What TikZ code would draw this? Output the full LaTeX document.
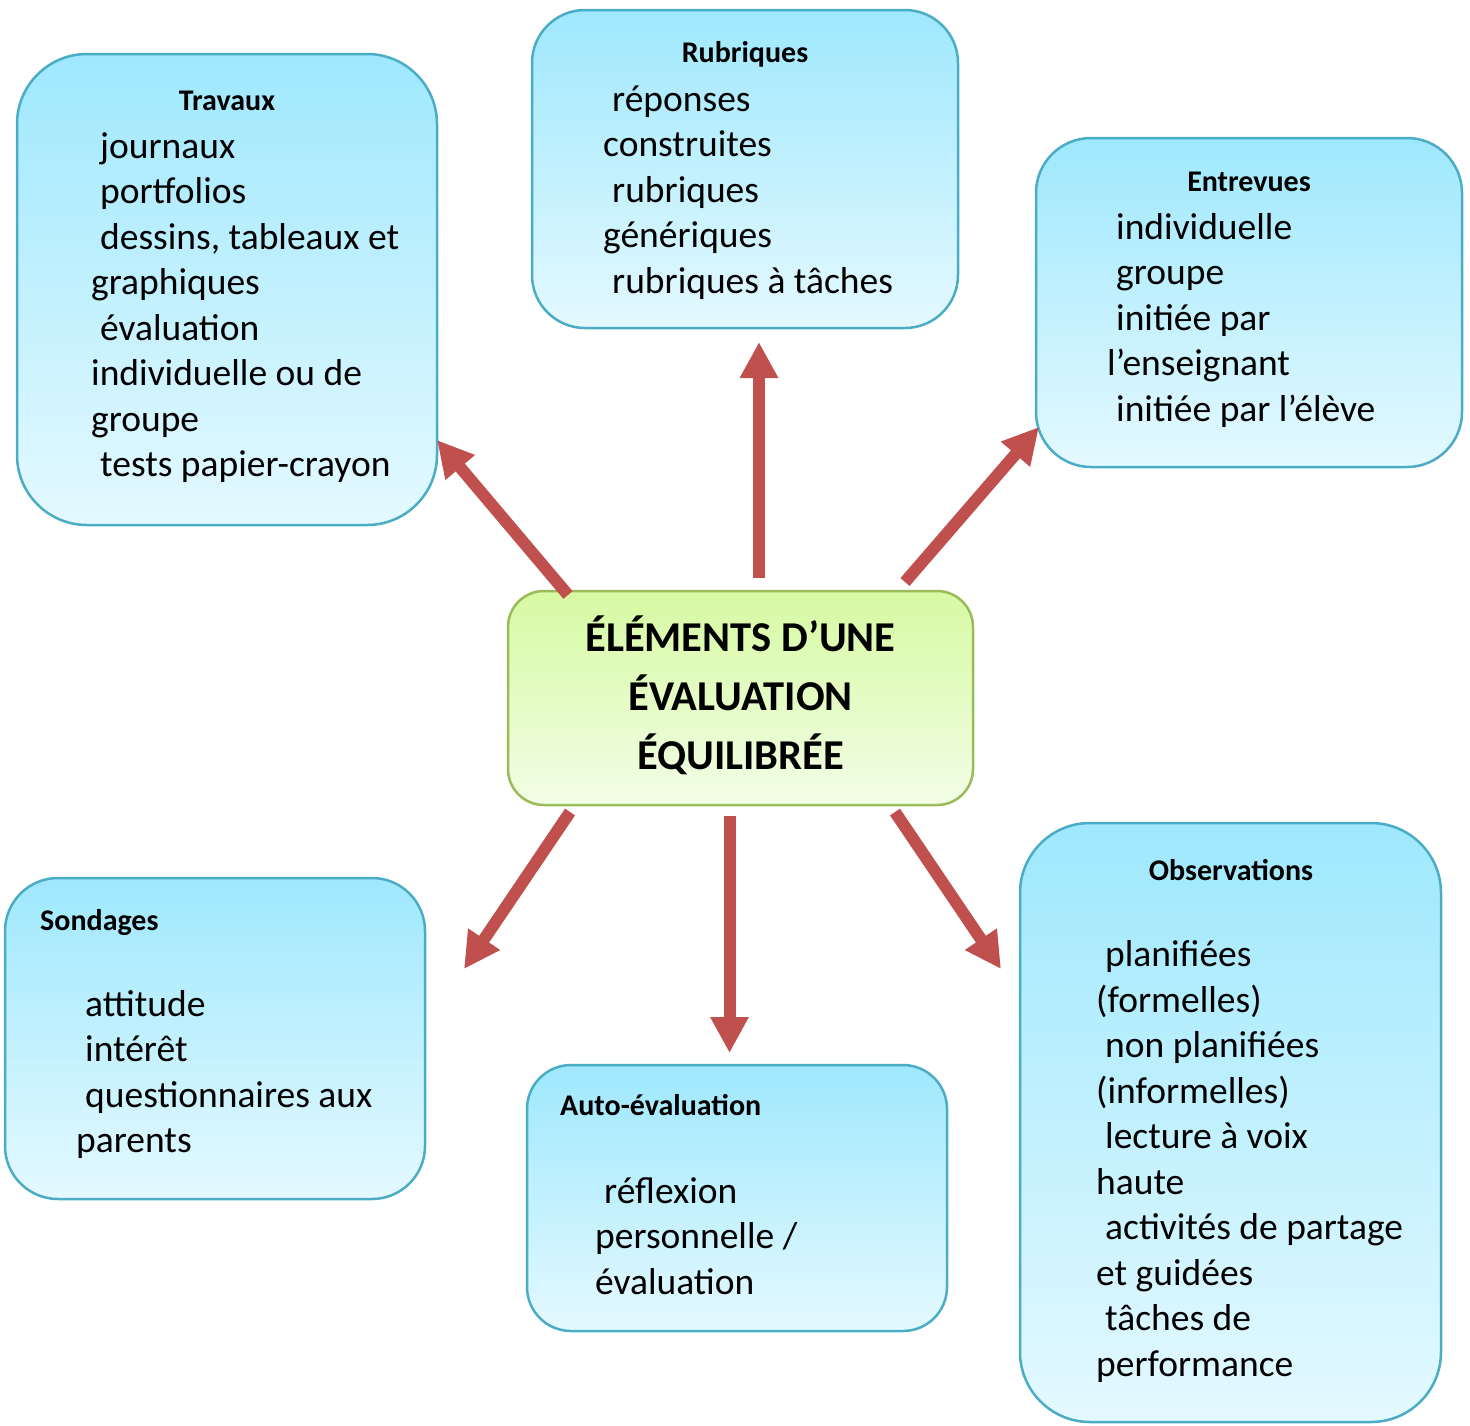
\documentclass[tikz,border=0pt]{standalone}
\usepackage{fontspec}
\setmainfont{Carlito}
\usetikzlibrary{arrows.meta}
\definecolor{bluetop}{HTML}{9FE8FD}
\definecolor{bluebot}{HTML}{E4F9FF}
\definecolor{blueline}{HTML}{4BACC6}
\definecolor{greentop}{HTML}{D7FAA3}
\definecolor{greenbot}{HTML}{F2FDE6}
\definecolor{greenline}{HTML}{9BBB59}
\definecolor{arrowred}{HTML}{C0504D}
\newcommand{\bodyfnt}{\fontsize{37.5}{45.5}\selectfont}
\newcommand{\strt}{\rule{0pt}{40pt}}
\newcommand{\ind}{\hspace*{9pt}}
\tikzset{
  bluebox/.style={draw=blueline, line width=2.5pt, top color=bluetop, bottom color=bluebot, inner sep=0pt, outer sep=0pt},
  greenbox/.style={draw=greenline, line width=2.5pt, top color=greentop, bottom color=greenbot, inner sep=0pt, outer sep=0pt},
  boxtitle/.style={anchor=base, inner sep=0pt, font=\bfseries\fontsize{30}{35}\selectfont},
  boxtitlel/.style={anchor=base west, inner sep=0pt, font=\bfseries\fontsize{30}{35}\selectfont},
  body/.style={anchor=north west, inner sep=0pt, align=left, font=\bodyfnt},
  bigarrow/.style={draw=arrowred, line width=12pt, -{Triangle[width=36pt,length=36pt]}, arrowred},
}
\begin{document}
\begin{tikzpicture}[x=1pt,y=-1pt]
\useasboundingbox (0,0) rectangle (1470,1425);
% boxes
\node[bluebox, rounded corners=70pt, minimum width=420pt, minimum height=471pt] (trav) at (227,289.5) {};
\node[bluebox, rounded corners=53pt, minimum width=426pt, minimum height=318pt] (rubr) at (745,169) {};
\node[bluebox, rounded corners=55pt, minimum width=426pt, minimum height=329pt] (entr) at (1249,302.5) {};
\node[greenbox, rounded corners=36pt, minimum width=465pt, minimum height=214pt] (centre) at (740.5,698) {};
\node[bluebox, rounded corners=53pt, minimum width=420pt, minimum height=321pt] (sond) at (215,1038.5) {};
\node[bluebox, rounded corners=44pt, minimum width=420pt, minimum height=266pt] (auto) at (737,1198) {};
\node[bluebox, rounded corners=70pt, minimum width=421pt, minimum height=599pt] (obs) at (1230.5,1122.5) {};
% centre text
\node[anchor=north, inner sep=0pt, align=center, font=\bfseries\fontsize{42.5}{59}\selectfont] (ctext) at (740.5,611) {\rule{0pt}{40pt}ÉLÉMENTS D’UNE\\ÉVALUATION\\ÉQUILIBRÉE};
% Travaux
\node[boxtitle] (travt) at (227,110) {Travaux};
\node[body] (travb) at (91,118) {\strt\ind journaux\\\ind portfolios\\\ind dessins, tableaux et\\graphiques\\\ind évaluation\\individuelle ou de\\groupe\\\ind tests papier-crayon};
% Rubriques
\node[boxtitle] (rubrt) at (745,62) {Rubriques};
\node[body] (rubrb) at (603,71) {\strt\ind réponses\\construites\\\ind rubriques\\génériques\\\ind rubriques à tâches};
% Entrevues
\node[boxtitle] (entrt) at (1249,191) {Entrevues};
\node[body] (entrb) at (1107,199) {\strt\ind individuelle\\\ind groupe\\\ind initiée par\\l’enseignant\\\ind initiée par l’élève};
% Sondages
\node[boxtitlel] (sondt) at (40,930) {Sondages};
\node[body] (sondb) at (76,976) {\strt\ind attitude\\\ind intérêt\\\ind questionnaires aux\\parents};
% Auto-evaluation
\node[boxtitlel] (autot) at (560,1115) {Auto-évaluation};
\node[body] (autob) at (595,1163) {\strt\ind réflexion\\personnelle /\\évaluation};
% Observations
\node[boxtitle] (obst) at (1231,880) {Observations};
\node[body] (obsb) at (1096,926.5) {\strt\ind planifiées\\(formelles)\\\ind non planifiées\\(informelles)\\\ind lecture à voix\\haute\\\ind activités de partage\\et guidées\\\ind tâches de\\performance};
% arrow end points
\coordinate (a1s) at (568,595); \coordinate (a1e) at (437,440);
\coordinate (a2s) at (759,578); \coordinate (a2e) at (759,342);
\coordinate (a3s) at (905,582); \coordinate (a3e) at (1039,427);
\coordinate (a4s) at (570,812); \coordinate (a4e) at (464,969);
\coordinate (a5s) at (729.5,816); \coordinate (a5e) at (729.5,1053);
\coordinate (a6s) at (895,812); \coordinate (a6e) at (1001,969);
\draw[bigarrow] (a1s) -- (a1e);
\draw[bigarrow] (a2s) -- (a2e);
\draw[bigarrow] (a3s) -- (a3e);
\draw[bigarrow] (a4s) -- (a4e);
\draw[bigarrow] (a5s) -- (a5e);
\draw[bigarrow] (a6s) -- (a6e);
\end{tikzpicture}
\end{document}
